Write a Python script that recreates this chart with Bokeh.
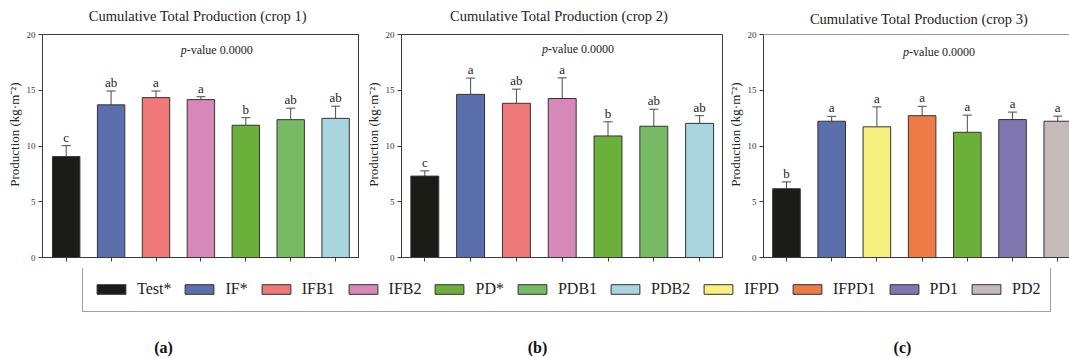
from bokeh.plotting import figure
from bokeh.models import (Range1d, FixedTicker, Whisker, TeeHead, ColumnDataSource,
                          Legend, LegendItem, Span)
from bokeh.layouts import column, row
from bokeh.embed import file_html
from bokeh.resources import INLINE
from bokeh.core.properties import value

# ---------------- data ----------------
cats_ab = ["Test*", "IF*", "IFB1", "IFB2", "PD*", "PDB1", "PDB2"]
cats_c = ["Test*", "IF*", "IFPD", "IFPD1", "PD*", "PD1", "PD2"]

mean_a = [9.05, 13.69, 14.34, 14.16, 11.86, 12.36, 12.48]
err_a = [0.98, 1.24, 0.59, 0.26, 0.68, 1.03, 1.09]
letters_a = ["c", "ab", "a", "a", "b", "ab", "ab"]

mean_b = [7.30, 14.63, 13.83, 14.26, 10.90, 11.77, 12.03]
err_b = [0.47, 1.46, 1.27, 1.85, 1.27, 1.53, 0.69]
letters_b = ["c", "a", "ab", "a", "b", "ab", "ab"]

mean_c = [6.17, 12.22, 11.72, 12.72, 11.23, 12.37, 12.22]
err_c = [0.61, 0.44, 1.79, 0.84, 1.54, 0.67, 0.46]
letters_c = ["b", "a", "a", "a", "a", "a", "a"]

titles = ["Cumulative Total Production (crop 1)",
          "Cumulative Total Production (crop 2)",
          "Cumulative Total Production (crop 3)"]
y_label = "Production (kg·m⁻²)"
pvalue_text = "0.0000"
y_ticks = [0, 5, 10, 15, 20]
legend_order = ["Test*", "IF*", "IFB1", "IFB2", "PD*", "PDB1", "PDB2",
                "IFPD", "IFPD1", "PD1", "PD2"]
panel_labels = ["(a)", "(b)", "(c)"]

# ---------------- style ----------------
colors = {
    "Test*": "#1c1c17", "IF*": "#5a6fab", "IFB1": "#ef7878", "IFB2": "#d689b8",
    "PD*": "#6bb03a", "PDB1": "#78b963", "PDB2": "#a9d6de", "IFPD": "#f8f07f",
    "IFPD1": "#ee7a45", "PD1": "#8177b0", "PD2": "#c4bab7",
}
SERIF = "Liberation Serif"
AX = "#3a3a3a"
LABEL_PAD = "\u00a0" * 7   # nudges the rotated axis label upward
HEAD_H = 28


def header(title, w, left, right, xr, ty):
    h = figure(width=w, height=HEAD_H, output_backend="svg", toolbar_location=None,
               x_range=xr, y_range=Range1d(0, HEAD_H),
               min_border_left=left, min_border_right=right,
               min_border_top=0, min_border_bottom=0,
               x_axis_type=None, y_axis_type=None)
    h.outline_line_color = None
    h.grid.visible = False
    h.text(x=[2.93], y=[ty], text=[title], text_align="center", text_baseline="middle",
           text_font=value(SERIF), text_font_size="14.5px", text_color="#222222")
    return h


def panel(cats, means, errs, letters, w, h, left, right, top, bottom,
          xr, pv_x, pv_y, outline=True):
    x = list(range(len(cats)))
    tops = [m + e for m, e in zip(means, errs)]
    src = ColumnDataSource(dict(x=x, mean=means, top=tops, letter=letters,
                                color=[colors[c] for c in cats]))
    p = figure(width=w, height=h, output_backend="svg", toolbar_location=None,
               x_range=xr, y_range=Range1d(0, 20),
               min_border_left=left, min_border_right=right,
               min_border_top=top, min_border_bottom=bottom)
    p.background_fill_color = "white"
    p.border_fill_color = "white"
    p.grid.visible = False
    if outline:
        p.outline_line_color = AX
        p.outline_line_width = 1
    else:
        p.outline_line_color = None
        p.add_layout(Span(location=20, dimension="width", line_color=AX, line_width=1))

    p.vbar(x="x", top="mean", width=0.61, source=src, fill_color="color",
           line_color="#333333", line_width=1)
    wh = Whisker(base="x", lower="mean", upper="top", source=src, dimension="height",
                 lower_head=None,
                 upper_head=TeeHead(size=9, line_color="#4a4a4a", line_width=1),
                 line_color="#4a4a4a", line_width=1)
    p.add_layout(wh)
    p.text(x="x", y="top", text="letter", source=src, text_align="center",
           text_baseline="bottom", y_offset=-1, text_font=value(SERIF),
           text_font_size="13px", text_color="#222222")
    p.text(x=[pv_x], y=[pv_y], text=["p"], text_align="left", text_baseline="middle",
           text_font=value(SERIF), text_font_style="italic", text_font_size="12px",
           text_color="#222222")
    p.text(x=[pv_x], y=[pv_y], text=["-value " + pvalue_text], text_align="left",
           text_baseline="middle", x_offset=6, text_font=value(SERIF),
           text_font_size="12px", text_color="#222222")

    p.xaxis.ticker = FixedTicker(ticks=x)
    p.xaxis.major_label_overrides = {i: "" for i in x}
    p.xaxis.major_label_text_font_size = "0px"
    p.xaxis.major_label_standoff = 0
    p.xaxis.major_tick_in = 0
    p.xaxis.major_tick_out = 4
    p.xaxis.minor_tick_line_color = None
    p.xaxis.axis_line_color = AX
    p.xaxis.major_tick_line_color = AX

    p.yaxis.ticker = FixedTicker(ticks=y_ticks)
    p.yaxis.major_tick_in = 0
    p.yaxis.major_tick_out = 4
    p.yaxis.minor_tick_line_color = None
    p.yaxis.axis_line_color = AX
    p.yaxis.major_tick_line_color = AX
    p.yaxis.major_label_text_font = SERIF
    p.yaxis.major_label_text_font_size = "9px"
    p.yaxis.major_label_text_color = "#333333"
    p.yaxis.major_label_standoff = 3
    p.yaxis.axis_label = LABEL_PAD + y_label
    p.yaxis.axis_label_text_font = SERIF
    p.yaxis.axis_label_text_font_size = "13px"
    p.yaxis.axis_label_text_font_style = "normal"
    p.yaxis.axis_label_text_color = "#222222"
    p.yaxis.axis_label_standoff = 2
    return p


xr_a = Range1d(-0.528, 6.51)
xr_b = Range1d(-0.509, 6.5)
xr_c = Range1d(-0.508, 6.26)

ha = header(titles[0], 362, 42, 4, xr_a, HEAD_H - 15)
hb = header(titles[1], 361, 39, 1, xr_b, HEAD_H - 15)
hc = header(titles[2], 346, 40, 0, xr_c, HEAD_H - 18.3)

pa = panel(cats_ab, mean_a, err_a, letters_a, 362, 268 - HEAD_H, 42, 4, 31 - HEAD_H, 11,
           xr_a, 2.55, 18.6)
pb = panel(cats_ab, mean_b, err_b, letters_b, 361, 268 - HEAD_H, 39, 1, 32 - HEAD_H, 6,
           xr_b, 2.56, 18.66)
pc = panel(cats_c, mean_c, err_c, letters_c, 346, 268 - HEAD_H, 40, 0, 34 - HEAD_H, 6,
           xr_c, 2.58, 18.39, outline=False)

# ---------------- legend + panel labels ----------------
bot = figure(width=1069, height=90, output_backend="svg", toolbar_location=None,
             x_range=Range1d(0, 1069), y_range=Range1d(0, 90), min_border=0,
             x_axis_type=None, y_axis_type=None)
bot.outline_line_color = None
bot.grid.visible = False
items = []
for i, name in enumerate(legend_order):
    # legend proxy glyph, kept outside the visible range
    r = bot.vbar(x=[-10 - i], top=[0], width=1, fill_color=colors[name],
                 line_color="#333333", line_width=1)
    items.append(LegendItem(label=name, renderers=[r]))
leg = Legend(items=items, orientation="horizontal", location=(82, 46),
             glyph_width=36, glyph_height=12, label_standoff=8, spacing=10,
             padding=10, label_height=24, margin=0,
             label_text_font=SERIF, label_text_font_size="16px",
             label_text_color="#222222", border_line_color="#444444",
             border_line_width=1, background_fill_color="white")
bot.add_layout(leg)
bot.text(x=[163, 537, 902], y=[11, 11, 11], text=panel_labels, text_align="center",
         text_baseline="middle", text_font=value(SERIF), text_font_style="bold",
         text_font_size="16px", text_color="#111111")

layout = column(row(ha, hb, hc, spacing=0), row(pa, pb, pc, spacing=0), bot, spacing=0)
open("out.html", "w").write(file_html(layout, INLINE))
